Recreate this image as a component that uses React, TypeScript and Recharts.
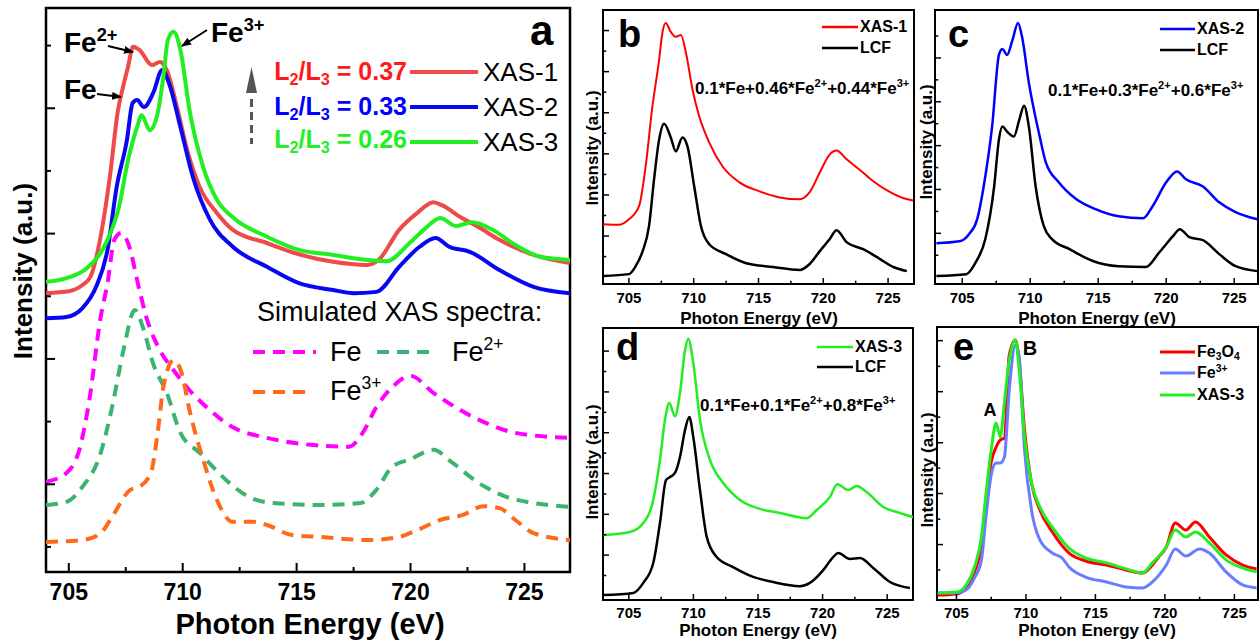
import React from "react";
import { LineChart, Line, XAxis, YAxis, ReferenceArea } from "recharts";

type Pt = [number, number];

const FONT = '"Liberation Sans", Arial, Helvetica, sans-serif';

// ---------- panel a: measured XAS (photon energy eV, intensity a.u.)
const XAS1_A: Pt[] = [[704.0,4.45],[705.0,4.48],[705.6,4.58],[705.95,4.71],[706.37,5.30],[706.8,6.30],[707.16,7.37],[707.38,7.74],[707.6,8.06],[707.82,8.38],[708.1,8.33],[708.65,8.09],[709.0,8.14],[709.3,8.01],[709.75,7.42],[710.2,6.73],[710.75,6.14],[711.5,5.73],[712.2,5.46],[713.7,5.25],[715.1,5.07],[716.6,4.95],[718.1,4.90],[718.6,4.98],[719.5,5.46],[720.3,5.73],[721.0,5.90],[721.4,5.85],[722.2,5.66],[723.0,5.50],[723.9,5.30],[725.4,5.06],[727.0,4.93]];
const XAS2_A: Pt[] = [[704.0,4.05],[704.9,4.07],[705.6,4.21],[706.2,4.55],[706.7,5.14],[707.1,6.14],[707.55,6.89],[707.8,7.48],[708.0,7.53],[708.3,7.42],[708.7,7.64],[709.1,8.01],[709.4,7.80],[709.9,7.10],[710.45,6.30],[711.2,5.62],[712.2,5.19],[713.7,4.87],[715.1,4.61],[716.6,4.50],[717.5,4.45],[718.5,4.47],[719.5,4.87],[720.4,5.19],[721.1,5.33],[721.7,5.19],[722.6,5.11],[723.9,4.82],[725.4,4.55],[727.0,4.45]];
const XAS3_A: Pt[] = [[704.0,4.63],[704.9,4.69],[705.8,4.85],[706.7,5.30],[707.2,5.82],[707.6,6.57],[708.0,7.10],[708.2,7.29],[708.55,7.05],[708.9,7.32],[709.15,7.90],[709.35,8.49],[709.6,8.62],[709.9,8.33],[710.3,7.37],[710.9,6.46],[711.5,5.94],[712.2,5.66],[713.7,5.35],[715.1,5.14],[716.6,5.06],[718.1,4.98],[718.95,4.96],[719.96,5.25],[720.7,5.50],[721.3,5.65],[722.0,5.52],[722.7,5.58],[723.6,5.46],[724.6,5.22],[725.7,5.03],[727.0,4.98]];

// simulated spectra
const FE_SIM: Pt[] = [[704.0,1.44],[704.9,1.58],[705.5,2.00],[705.9,2.74],[706.4,4.07],[706.7,4.61],[707.0,5.30],[707.3,5.41],[707.6,5.25],[708.1,4.50],[708.4,4.07],[709.0,3.54],[709.6,3.22],[710.3,2.90],[711.05,2.63],[712.2,2.31],[713.7,2.14],[715.6,2.03],[717.3,2.00],[717.9,2.22],[718.5,2.63],[719.2,2.95],[720.0,3.13],[721.0,2.86],[722.2,2.58],[723.3,2.38],[724.6,2.22],[727.0,2.14]];
const FE2_SIM: Pt[] = [[704.0,1.07],[704.9,1.12],[705.6,1.36],[706.4,1.90],[706.9,2.63],[707.4,3.54],[707.9,4.18],[708.25,3.91],[708.7,3.33],[709.3,2.86],[709.9,2.22],[710.75,1.90],[711.9,1.47],[712.9,1.20],[714.0,1.10],[716.0,1.07],[717.8,1.10],[718.5,1.31],[719.2,1.68],[720.0,1.80],[721.0,1.95],[721.85,1.74],[723.0,1.42],[724.2,1.20],[725.4,1.10],[727.0,1.04]];
const FE3_SIM: Pt[] = [[704.0,0.48],[705.6,0.51],[706.4,0.62],[706.9,0.88],[707.7,1.31],[708.1,1.36],[708.6,1.58],[708.9,2.22],[709.15,2.95],[709.6,3.38],[709.95,3.18],[710.3,2.58],[710.9,1.79],[711.5,1.15],[712.2,0.80],[713.1,0.80],[713.7,0.75],[714.8,0.59],[716.0,0.56],[718.1,0.51],[719.5,0.56],[720.3,0.67],[721.3,0.83],[722.3,0.91],[723.2,1.05],[723.9,1.02],[724.6,0.83],[725.4,0.62],[727.0,0.51]];

// ---------- panels b-d: XAS vs linear combination fit
const XAS1_B: Pt[] = [[702.93,21.8],[704.22,21.6],[705.0,23.6],[705.78,28.4],[706.29,42.9],[706.81,64.7],[707.33,81.8],[707.58,91.6],[707.84,95.3],[708.23,92.0],[708.62,90.2],[709.01,90.9],[709.4,84.4],[709.91,70.9],[710.43,61.1],[711.2,51.6],[712.23,42.9],[713.53,37.1],[715.08,33.8],[716.63,31.6],[718.18,30.9],[718.95,33.5],[719.73,40.7],[720.5,47.3],[721.02,48.7],[721.8,45.5],[722.78,41.8],[723.86,37.5],[725.16,33.5],[726.19,31.3],[726.94,30.5]];
const LCF_B: Pt[] = [[702.93,2.9],[705.0,3.6],[705.52,6.5],[706.03,11.6],[706.55,21.1],[706.94,38.2],[707.33,52.7],[707.71,58.5],[708.23,53.5],[708.62,48.4],[709.13,53.5],[709.52,50.2],[710.04,35.6],[710.56,21.1],[711.2,14.5],[712.5,10.9],[714.05,7.6],[716.12,6.2],[718.18,5.1],[718.95,7.3],[719.73,12.0],[720.5,16.4],[721.02,19.6],[721.8,15.3],[723.08,12.7],[724.38,9.1],[725.41,6.2],[726.45,4.7]];

const XAS2_C: Pt[] = [[703.1,14.9],[704.8,15.6],[705.5,18.2],[706.1,23.6],[706.7,39.3],[707.2,57.5],[707.7,83.6],[707.95,85.8],[708.3,83.6],[708.7,89.1],[709.1,95.3],[709.4,90.2],[709.9,73.5],[710.7,53.8],[711.15,44.4],[712.1,37.1],[713.4,30.9],[714.8,27.3],[716.5,24.7],[718.3,24.0],[719.0,28.4],[720.0,37.1],[720.8,41.1],[721.45,38.2],[722.7,35.6],[723.9,29.8],[725.1,26.2],[726.7,23.6]];
const LCF_C: Pt[] = [[703.1,2.9],[705.3,3.6],[706.0,8.0],[706.7,16.4],[707.35,35.6],[707.7,52.7],[707.95,57.5],[708.3,55.6],[708.8,53.8],[709.2,60.0],[709.55,65.1],[709.9,57.5],[710.4,35.6],[711.0,21.1],[711.6,16.4],[712.9,12.7],[714.6,8.4],[716.5,6.5],[718.5,6.2],[719.5,11.6],[720.5,17.5],[721.0,20.0],[721.7,17.1],[722.7,16.0],[723.9,10.9],[725.1,6.5],[726.7,4.7]];

const XAS3_D: Pt[] = [[703.02,23.9],[705.09,25.0],[706.12,28.3],[706.89,36.8],[707.41,51.5],[707.8,66.2],[708.13,72.4],[708.57,67.6],[708.96,76.1],[709.35,91.9],[709.6,96.0],[709.99,87.1],[710.51,66.2],[711.28,51.5],[712.31,43.0],[713.6,36.8],[715.15,33.5],[716.7,32.0],[718.77,30.1],[719.54,33.1],[720.57,37.9],[721.14,42.6],[721.99,40.4],[722.64,41.9],[723.41,39.7],[724.7,34.2],[725.99,32.0],[727.0,30.5]];
const LCF_D: Pt[] = [[703.02,1.8],[705.35,2.6],[706.12,6.3],[706.89,13.6],[707.41,28.3],[707.88,44.1],[708.19,45.2],[708.57,46.7],[708.96,52.6],[709.35,62.5],[709.68,67.3],[709.99,59.9],[710.51,40.4],[711.03,23.2],[711.8,15.8],[713.07,12.1],[714.62,8.5],[716.17,6.6],[718.25,5.1],[719.02,6.3],[720.05,11.0],[720.82,15.8],[721.21,17.3],[722.12,15.1],[722.89,15.4],[723.92,11.8],[725.22,6.6],[726.76,4.4]];

// ---------- panel e: references
const FE3O4_E: Pt[] = [[703.65,1.8],[705.0,2.2],[705.7,4.4],[706.3,10.3],[706.8,20.1],[707.1,34.8],[707.5,50.5],[707.85,56.0],[708.15,58.6],[708.45,59.3],[708.8,89.7],[709.25,95.2],[709.5,87.9],[709.9,62.3],[710.4,42.9],[711.0,33.0],[711.9,24.9],[713.1,17.2],[714.3,14.3],[715.8,12.8],[717.2,11.0],[718.4,9.9],[719.1,12.8],[719.5,15.4],[720.1,19.4],[720.75,28.2],[721.5,25.6],[722.2,28.6],[723.2,23.1],[724.4,16.5],[725.6,12.8],[726.6,11.4]];
const FE3_E: Pt[] = [[703.65,2.6],[705.0,2.6],[705.7,3.7],[706.3,8.1],[706.8,14.7],[707.1,29.3],[707.5,45.8],[707.85,50.2],[708.15,50.2],[708.45,52.4],[708.8,76.9],[709.25,93.4],[709.5,89.7],[709.9,54.9],[710.4,33.0],[711.0,22.0],[711.9,17.2],[712.6,15.4],[713.1,12.1],[714.3,8.4],[715.8,6.6],[717.2,4.8],[718.4,4.4],[719.1,6.6],[720.1,12.8],[720.75,18.7],[721.5,16.1],[722.5,18.7],[723.2,17.2],[724.4,10.3],[725.6,5.5],[726.6,4.4]];
const XAS3_E: Pt[] = [[703.65,2.6],[705.0,2.9],[705.7,5.5],[706.3,12.1],[706.8,23.1],[707.1,37.7],[707.5,54.9],[707.85,64.8],[708.15,59.7],[708.45,72.2],[708.8,87.9],[709.25,95.2],[709.5,85.3],[709.9,59.7],[710.4,42.9],[711.0,34.1],[711.9,26.7],[713.1,19.0],[714.3,15.4],[715.8,13.6],[717.2,11.4],[718.4,9.9],[719.1,13.6],[720.1,19.4],[720.75,25.6],[721.5,23.1],[722.2,24.9],[723.2,20.9],[724.4,14.7],[725.6,11.7],[726.6,10.3]];

// ticks
const X_TICKS = [705, 707.5, 710, 712.5, 715, 717.5, 720, 722.5, 725];
const A_YTICKS = [0.4, 1.4, 2.4, 3.4, 4.4, 5.4, 6.4, 7.4, 8.4];
const B_YTICKS = [10, 17.5, 25, 32.5, 40, 47.5, 55, 62.5, 70, 77.5, 85, 92.5];
const C_YTICKS = [10.5, 18.5, 26.5, 34.5, 42.5, 50.5, 58.5, 66.5, 74.5, 82.5, 90.5];
const D_YTICKS = [9, 16.5, 24, 31.5, 39, 46.5, 54, 61.5, 69, 76.5, 84, 91.5];
const E_YTICKS = [11, 20.3, 29.6, 39, 48.3, 57.6, 67, 76.3, 85.6, 95];

const rows = (pts: Pt[]) => pts.map(([e, v]) => ({ e, v }));

type Series = { pts: Pt[]; color: string; width: number; dash?: string };
type Box = { x0: number; y0: number; x1: number; y1: number };

const AXIS_H = 40; // room below the plot for tick labels
const AXIS_W = 12; // room left of the plot

function Spectrum({ box, xDomain, yDomain, yTicks, series, tickFont, labelGap, tickLen, lw }: {
  box: Box; xDomain: [number, number]; yDomain: [number, number]; yTicks: number[];
  series: Series[]; tickFont: number; labelGap: number; tickLen: number; lw: number;
}) {
  const pad = { left: 0, top: 10, right: 10, bottom: 0 };
  const w = box.x1 - box.x0 + AXIS_W + pad.right;
  const h = box.y1 - box.y0 + pad.top + AXIS_H;

  const xTick = (p: any) => {
    const major = p.payload.value % 5 === 0;
    return (
      <g>
        <line x1={p.x} x2={p.x} y1={p.y} y2={p.y - (major ? tickLen : tickLen * 0.55)} stroke="#000" strokeWidth={lw} />
        {major && (
          <text x={p.x} y={p.y + labelGap} textAnchor="middle" dominantBaseline="central"
            fontSize={tickFont} fontWeight="bold" fontFamily={FONT} fill="#000">{p.payload.value}</text>
        )}
      </g>
    );
  };
  const yTick = (p: any) => {
    const major = p.index % 2 === 1;
    return <line x1={p.x} x2={p.x + (major ? tickLen : tickLen * 0.55)} y1={p.y} y2={p.y} stroke="#000" strokeWidth={lw} />;
  };

  return (
    <div style={{ position: "absolute", left: box.x0 - AXIS_W, top: box.y0 - pad.top }}>
      <LineChart width={w} height={h} margin={pad}>
        <XAxis type="number" dataKey="e" domain={xDomain} ticks={X_TICKS} interval={0} allowDataOverflow
          height={AXIS_H} tickSize={0} tickMargin={0} axisLine={false} tickLine={false} tick={xTick} />
        <YAxis type="number" dataKey="v" domain={yDomain} ticks={yTicks} interval={0} allowDataOverflow
          width={AXIS_W} tickSize={0} tickMargin={0} axisLine={false} tickLine={false} tick={yTick} />
        {series.map((s, i) => (
          <Line key={i} data={rows(s.pts)} dataKey="v" type="monotone" stroke={s.color} strokeWidth={s.width}
            strokeDasharray={s.dash} dot={false} activeDot={false} isAnimationActive={false} />
        ))}
        <ReferenceArea x1={xDomain[0]} x2={xDomain[1]} y1={yDomain[0]} y2={yDomain[1]}
          fill="none" stroke="#000" strokeWidth={lw + 0.5} />
      </LineChart>
    </div>
  );
}

const Sup = ({ children }: { children: React.ReactNode }) => (
  <span style={{ fontSize: "0.65em", position: "relative", top: "-0.6em" }}>{children}</span>
);
const Sub = ({ children }: { children: React.ReactNode }) => (
  <span style={{ fontSize: "0.65em", position: "relative", top: "0.3em" }}>{children}</span>
);

function T({ x, y, size, bold = true, color = "#000", align = "left", rotate = false, children }: {
  x: number; y: number; size: number; bold?: boolean; color?: string; align?: "left" | "center" | "right";
  rotate?: boolean; children: React.ReactNode;
}) {
  const tx = align === "left" ? "0" : align === "right" ? "-100%" : "-50%";
  return (
    <div style={{
      position: "absolute", left: x, top: y, whiteSpace: "nowrap", lineHeight: 1,
      fontFamily: FONT, fontSize: size, fontWeight: bold ? "bold" : "normal", color,
      transform: `translate(${tx}, -50%)${rotate ? " rotate(-90deg)" : ""}`,
    }}>{children}</div>
  );
}

const RED_A = "#ee4a4a";
const BLUE = "#0808f0";
const GREEN = "#22ee22";
const MAGENTA = "#ff00ff";
const SEAGREEN = "#3cb371";
const ORANGE = "#ff6a1a";
const LIGHTBLUE = "#6a7cff";

export default function App() {
  const small = { tickFont: 15, labelGap: 13, tickLen: 6, lw: 1.5 };
  return (
    <div style={{ position: "absolute", left: 0, top: 0, width: 1259, height: 644, background: "#fff", overflow: "hidden" }}>
      {/* panel a */}
      <Spectrum box={{ x0: 46, y0: 8, x1: 570, y1: 572 }} xDomain={[704, 727]} yDomain={[0, 9]} yTicks={A_YTICKS}
        tickFont={23} labelGap={20} tickLen={9} lw={2}
        series={[
          { pts: FE_SIM, color: MAGENTA, width: 4, dash: "12 8" },
          { pts: FE2_SIM, color: SEAGREEN, width: 4, dash: "12 8" },
          { pts: FE3_SIM, color: ORANGE, width: 4, dash: "12 8" },
          { pts: XAS1_A, color: RED_A, width: 4 },
          { pts: XAS2_A, color: BLUE, width: 4 },
          { pts: XAS3_A, color: GREEN, width: 4 },
        ]} />
      {/* panel b */}
      <Spectrum box={{ x0: 603, y0: 10, x1: 914, y1: 284 }} xDomain={[703, 727]} yDomain={[0, 100]} yTicks={B_YTICKS} {...small}
        series={[{ pts: XAS1_B, color: "#ff0000", width: 2 }, { pts: LCF_B, color: "#000", width: 2.5 }]} />
      {/* panel c */}
      <Spectrum box={{ x0: 935, y0: 10, x1: 1258, y1: 284 }} xDomain={[703, 726.75]} yDomain={[0, 100]} yTicks={C_YTICKS} {...small}
        series={[{ pts: XAS2_C, color: "#0000ff", width: 2.5 }, { pts: LCF_C, color: "#000", width: 2.5 }]} />
      {/* panel d */}
      <Spectrum box={{ x0: 603, y0: 328, x1: 913, y1: 600 }} xDomain={[703, 727]} yDomain={[0, 100]} yTicks={D_YTICKS} {...small}
        labelGap={12}
        series={[{ pts: XAS3_D, color: GREEN, width: 2.5 }, { pts: LCF_D, color: "#000", width: 2.5 }]} />
      {/* panel e */}
      <Spectrum box={{ x0: 937, y0: 327, x1: 1258, y1: 600 }} xDomain={[703.6, 726.7]} yDomain={[0, 100]} yTicks={E_YTICKS} {...small}
        labelGap={12}
        series={[
          { pts: FE3O4_E, color: "#ff0000", width: 3 },
          { pts: FE3_E, color: LIGHTBLUE, width: 3 },
          { pts: XAS3_E, color: GREEN, width: 3 },
        ]} />

      {/* decorations: legend samples and arrows */}
      <svg width={1259} height={644} style={{ position: "absolute", left: 0, top: 0, pointerEvents: "none" }}>
        <defs>
          <marker id="ah" markerWidth="10" markerHeight="8" refX="9" refY="4" orient="auto" markerUnits="userSpaceOnUse">
            <path d="M0,0 L10,4 L0,8 z" fill="#000" />
          </marker>
        </defs>
        <line x1={108} y1={46} x2={133} y2={52} stroke="#000" strokeWidth={2} markerEnd="url(#ah)" />
        <line x1={97} y1={94} x2={121} y2={97} stroke="#000" strokeWidth={2} markerEnd="url(#ah)" />
        <line x1={207} y1={30} x2={182} y2={46} stroke="#000" strokeWidth={2} markerEnd="url(#ah)" />
        <polygon points="251.5,67 246,93 257,93" fill="#555" />
        <line x1={251.5} y1={99} x2={251.5} y2={144} stroke="#555" strokeWidth={3} strokeDasharray="8 5" />
        <line x1={410} y1={72} x2={478} y2={72} stroke={RED_A} strokeWidth={4} />
        <line x1={410} y1={107} x2={478} y2={107} stroke={BLUE} strokeWidth={4} />
        <line x1={410} y1={142} x2={478} y2={142} stroke={GREEN} strokeWidth={4} />
        <line x1={253} y1={352} x2={316} y2={352} stroke={MAGENTA} strokeWidth={4} strokeDasharray="12 8" />
        <line x1={377} y1={352} x2={435} y2={352} stroke={SEAGREEN} strokeWidth={4} strokeDasharray="12 8" />
        <line x1={253} y1={392} x2={312} y2={392} stroke={ORANGE} strokeWidth={4} strokeDasharray="12 8" />
        <line x1={822} y1={27} x2={858} y2={27} stroke="#ff0000" strokeWidth={2.5} />
        <line x1={822} y1={48} x2={858} y2={48} stroke="#000" strokeWidth={2.5} />
        <line x1={1160} y1={29} x2={1195} y2={29} stroke="#0000ff" strokeWidth={2.5} />
        <line x1={1160} y1={50} x2={1195} y2={50} stroke="#000" strokeWidth={2.5} />
        <line x1={817} y1={347} x2={853} y2={347} stroke={GREEN} strokeWidth={2.5} />
        <line x1={817} y1={367} x2={853} y2={367} stroke="#000" strokeWidth={2.5} />
        <line x1={1160} y1={352} x2={1195} y2={352} stroke="#ff0000" strokeWidth={3} />
        <line x1={1160} y1={373} x2={1195} y2={373} stroke={LIGHTBLUE} strokeWidth={3} />
        <line x1={1160} y1={395} x2={1195} y2={395} stroke={GREEN} strokeWidth={3} />
      </svg>

      {/* panel a text */}
      <T x={310} y={624} size={29} align="center">Photon Energy (eV)</T>
      <T x={23} y={271} size={26} align="center" rotate>Intensity (a.u.)</T>
      <T x={530} y={31} size={42}>a</T>
      <T x={64} y={43} size={28}>Fe<Sup>2+</Sup></T>
      <T x={64} y={90} size={28}>Fe</T>
      <T x={211} y={33} size={28}>Fe<Sup>3+</Sup></T>
      <T x={407} y={71} size={25} align="right" color="#ff1a1a">L<Sub>2</Sub>/L<Sub>3</Sub> = 0.37</T>
      <T x={407} y={106} size={25} align="right" color="#0000ff">L<Sub>2</Sub>/L<Sub>3</Sub> = 0.33</T>
      <T x={407} y={139} size={25} align="right" color={GREEN}>L<Sub>2</Sub>/L<Sub>3</Sub> = 0.26</T>
      <T x={483} y={72} size={26} bold={false}>XAS-1</T>
      <T x={483} y={107} size={26} bold={false}>XAS-2</T>
      <T x={483} y={142} size={26} bold={false}>XAS-3</T>
      <T x={257} y={312} size={27} bold={false}>Simulated XAS spectra:</T>
      <T x={330} y={352} size={27} bold={false}>Fe</T>
      <T x={452} y={352} size={27} bold={false}>Fe<Sup>2+</Sup></T>
      <T x={330} y={391} size={27} bold={false}>Fe<Sup>3+</Sup></T>

      {/* panel b text */}
      <T x={759} y={318} size={17} align="center">Photon Energy (eV)</T>
      <T x={592} y={148} size={17} align="center" rotate>Intensity (a.u.)</T>
      <T x={618} y={34} size={38}>b</T>
      <T x={860} y={27} size={16}>XAS-1</T>
      <T x={860} y={48} size={16}>LCF</T>
      <T x={695} y={88} size={17}>0.1*Fe+0.46*Fe<Sup>2+</Sup>+0.44*Fe<Sup>3+</Sup></T>

      {/* panel c text */}
      <T x={1097} y={318} size={17} align="center">Photon Energy (eV)</T>
      <T x={926} y={142} size={17} align="center" rotate>Intensity (a.u.)</T>
      <T x={948} y={34} size={38}>c</T>
      <T x={1197} y={29} size={16}>XAS-2</T>
      <T x={1197} y={50} size={16}>LCF</T>
      <T x={1048} y={90} size={17}>0.1*Fe+0.3*Fe<Sup>2+</Sup>+0.6*Fe<Sup>3+</Sup></T>

      {/* panel d text */}
      <T x={758} y={630} size={17} align="center">Photon Energy (eV)</T>
      <T x={592} y={462} size={17} align="center" rotate>Intensity (a.u.)</T>
      <T x={616} y={347} size={38}>d</T>
      <T x={855} y={347} size={16}>XAS-3</T>
      <T x={855} y={367} size={16}>LCF</T>
      <T x={700} y={405} size={17}>0.1*Fe+0.1*Fe<Sup>2+</Sup>+0.8*Fe<Sup>3+</Sup></T>

      {/* panel e text */}
      <T x={1097} y={630} size={17} align="center">Photon Energy (eV)</T>
      <T x={927} y={470} size={17} align="center" rotate>Intensity (a.u.)</T>
      <T x={953} y={347} size={38}>e</T>
      <T x={1197} y={352} size={16}>Fe<Sub>3</Sub>O<Sub>4</Sub></T>
      <T x={1197} y={373} size={16}>Fe<Sup>3+</Sup></T>
      <T x={1197} y={395} size={16}>XAS-3</T>
      <T x={990} y={410} size={18} align="center">A</T>
      <T x={1030} y={348} size={20} align="center">B</T>
    </div>
  );
}
